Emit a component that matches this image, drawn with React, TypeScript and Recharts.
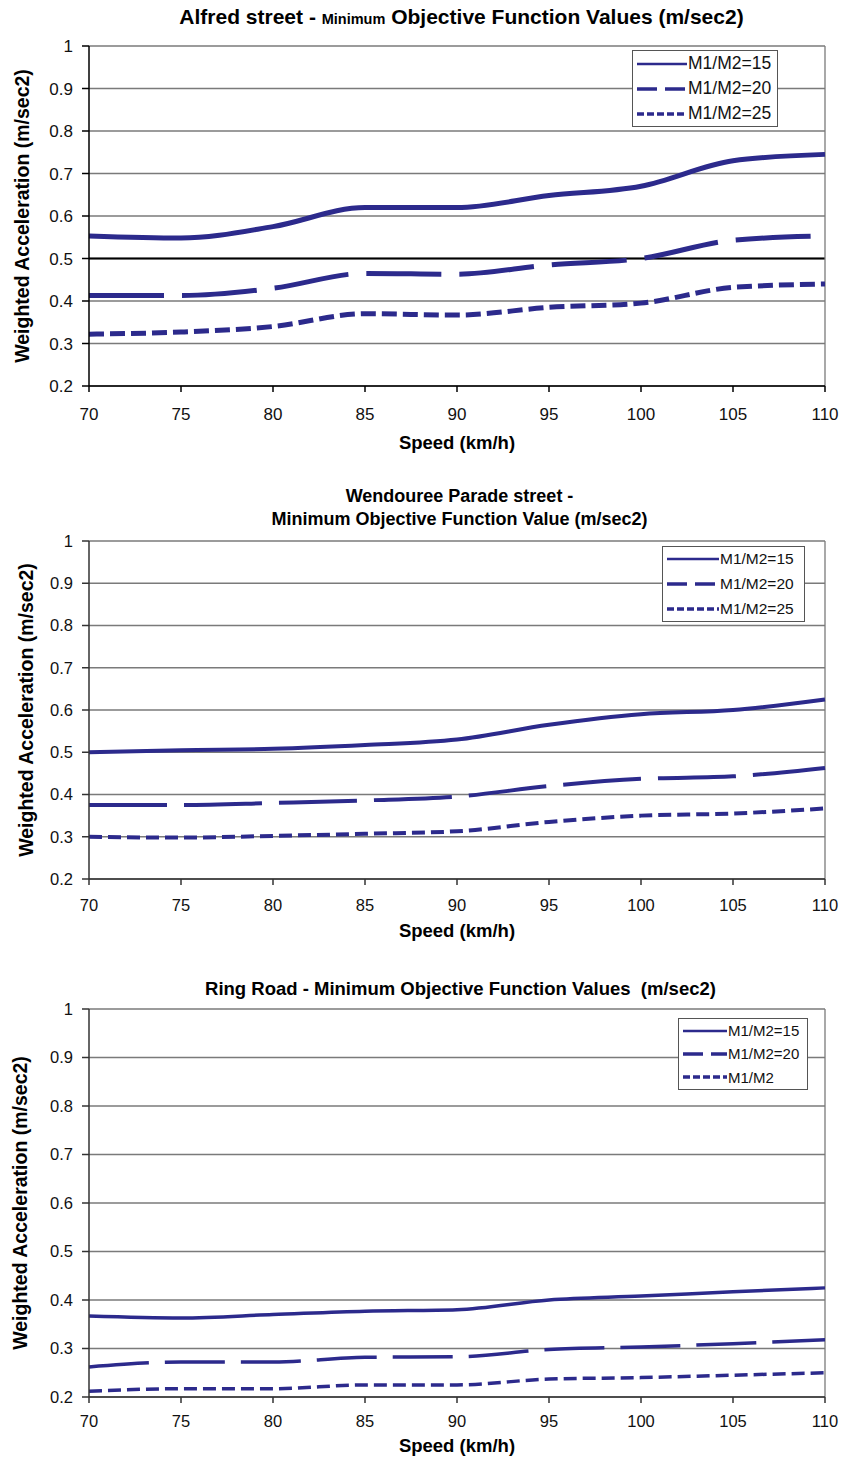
import React from 'react';
import { LineChart, Line, XAxis, YAxis, CartesianGrid, ReferenceLine, Label } from 'recharts';

const speeds = [70, 75, 80, 85, 90, 95, 100, 105, 110];
const yTicks = [0.2, 0.3, 0.4, 0.5, 0.6, 0.7, 0.8, 0.9, 1];

const alfred15 = [0.553, 0.548, 0.575, 0.62, 0.62, 0.648, 0.67, 0.73, 0.745];
const alfred20 = [0.413, 0.413, 0.43, 0.465, 0.463, 0.485, 0.5, 0.543, 0.553];
const alfred25 = [0.322, 0.327, 0.34, 0.37, 0.367, 0.385, 0.395, 0.432, 0.44];

const wend15 = [0.5, 0.505, 0.508, 0.517, 0.53, 0.565, 0.59, 0.6, 0.625];
const wend20 = [0.375, 0.375, 0.38, 0.386, 0.395, 0.42, 0.437, 0.443, 0.463];
const wend25 = [0.3, 0.298, 0.302, 0.307, 0.313, 0.335, 0.35, 0.355, 0.367];

const ring15 = [0.367, 0.363, 0.37, 0.377, 0.38, 0.4, 0.408, 0.417, 0.425];
const ring20 = [0.262, 0.272, 0.272, 0.282, 0.283, 0.298, 0.303, 0.31, 0.318];
const ring25 = [0.212, 0.217, 0.217, 0.225, 0.225, 0.237, 0.24, 0.245, 0.25];

const names = ['M1/M2=15', 'M1/M2=20', 'M1/M2=25'];
const ringNames = ['M1/M2=15', 'M1/M2=20', 'M1/M2'];

const COLOR = '#2c2a8c';
const FONT = '"Liberation Sans", Arial, sans-serif';

const build = (a: number[], b: number[], c: number[]) =>
  speeds.map((s, i) => ({ speed: s, a: a[i], b: b[i], c: c[i] }));

type PanelProps = {
  top: number;
  height: number;
  plotTop: number;
  plotBottom: number;
  data: any[];
  labels: string[];
  dashes: string[];
  widths: number[];
  title: React.ReactNode;
  legend: { left: number; top: number; width: number; height: number; lineW: number; font: number };
  axisColor: string;
  tickFont: number;
  tickGap: number;
  xLabelGap: number;
  yLabelX: number;
  labelFont: number;
  midLine?: boolean;
};

function Panel(p: PanelProps) {
  const keys = ['a', 'b', 'c'];
  return (
    <div style={{ position: 'absolute', left: 0, top: p.top, width: 843, height: p.height }}>
      {p.title}
      <LineChart
        width={843}
        height={p.height}
        data={p.data}
        margin={{ top: p.plotTop, right: 18, left: 0, bottom: 0 }}
        style={{ fontFamily: FONT }}
      >
        <CartesianGrid horizontal vertical={false} stroke="#7a7a7a" strokeWidth={1.3} />
        <XAxis
          dataKey="speed"
          type="number"
          domain={[70, 110]}
          ticks={speeds}
          height={p.height - p.plotBottom}
          stroke={p.axisColor}
          strokeWidth={1.5}
          tickSize={6}
          tickMargin={p.tickGap}
          tick={{ fill: '#111', fontSize: p.tickFont }}
        >
          <Label
            value="Speed (km/h)"
            position="insideTop"
            offset={p.xLabelGap}
            style={{ fontWeight: 'bold', fontSize: p.labelFont, fill: '#000' }}
          />
        </XAxis>
        <YAxis
          type="number"
          domain={[0.2, 1]}
          ticks={yTicks}
          width={89}
          stroke={p.axisColor}
          strokeWidth={1.5}
          tickSize={7}
          tickMargin={9}
          tick={{ fill: '#111', fontSize: p.tickFont }}
          allowDataOverflow
        >
          <Label
            value="Weighted Acceleration (m/sec2)"
            position="insideLeft"
            angle={-90}
            offset={p.yLabelX}
            style={{ textAnchor: 'middle', fontWeight: 'bold', fontSize: p.labelFont + 1, fill: '#000' }}
          />
        </YAxis>
        {p.midLine && <ReferenceLine y={0.5} stroke="#000" strokeWidth={1.8} />}
        <ReferenceLine x={110} stroke="#7a7a7a" strokeWidth={1.3} />
        {keys.map((k, i) => (
          <Line
            key={k}
            dataKey={k}
            name={p.labels[i]}
            type="monotone"
            stroke={COLOR}
            strokeWidth={p.widths[i]}
            strokeDasharray={p.dashes[i]}
            dot={false}
            activeDot={false}
            isAnimationActive={false}
          />
        ))}
      </LineChart>
      <div
        style={{
          position: 'absolute',
          left: p.legend.left,
          top: p.legend.top,
          width: p.legend.width,
          height: p.legend.height,
          border: '1.5px solid #555',
          background: '#fff',
          boxSizing: 'border-box',
          display: 'flex',
          flexDirection: 'column',
          justifyContent: 'space-around',
          paddingLeft: 4,
          fontFamily: FONT,
          fontSize: p.legend.font,
          color: '#111',
        }}
      >
        {p.labels.map((l, i) => (
          <div key={l} style={{ display: 'flex', alignItems: 'center', height: 18 }}>
            <svg width={p.legend.lineW} height={10} style={{ display: 'block' }}>
              <line
                x1={0}
                y1={5}
                x2={p.legend.lineW}
                y2={5}
                stroke={COLOR}
                strokeWidth={i === 0 ? 2.5 : 3.5}
                strokeDasharray={i === 0 ? undefined : i === 1 ? '20 8' : '7 3'}
              />
            </svg>
            <span style={{ marginLeft: 1 }}>{l}</span>
          </div>
        ))}
      </div>
    </div>
  );
}

const titleStyle: React.CSSProperties = {
  position: 'absolute',
  left: 0,
  width: 843,
  textAlign: 'center',
  fontFamily: FONT,
  fontWeight: 'bold',
  color: '#000',
  whiteSpace: 'nowrap',
};

export default function App() {
  return (
    <div style={{ position: 'absolute', left: 0, top: 0, width: 843, height: 1460, background: '#fff' }}>
      <Panel
        top={0}
        height={470}
        plotTop={46}
        plotBottom={386}
        data={build(alfred15, alfred20, alfred25)}
        labels={names}
        dashes={['', '75 18', '15 6']}
        widths={[5, 5, 5]}
        axisColor="#000"
        tickFont={17}
        tickGap={16}
        xLabelGap={50}
        yLabelX={22}
        labelFont={18.5}
        midLine
        legend={{ left: 632, top: 50, width: 146, height: 77, lineW: 50, font: 17.5 }}
        title={
          <div style={{ ...titleStyle, top: 5, fontSize: 21, left: 40 }}>
            Alfred street - <span style={{ fontSize: 14.5 }}>Minimum</span> Objective Function Values (m/sec2)
          </div>
        }
      />
      <Panel
        top={470}
        height={480}
        plotTop={71}
        plotBottom={409}
        data={build(wend15, wend20, wend25)}
        labels={names}
        dashes={['', '78 17', '13 6']}
        widths={[4, 4, 4]}
        axisColor="#333"
        tickFont={16.5}
        tickGap={14}
        xLabelGap={45}
        yLabelX={26}
        labelFont={18.5}
        legend={{ left: 662, top: 76, width: 143, height: 76, lineW: 52, font: 15.5 }}
        title={
          <>
            <div style={{ ...titleStyle, top: 16, fontSize: 18, left: 38 }}>Wendouree Parade street -</div>
            <div style={{ ...titleStyle, top: 39, fontSize: 18, left: 38 }}>
              Minimum Objective Function Value (m/sec2)
            </div>
          </>
        }
      />
      <Panel
        top={950}
        height={510}
        plotTop={59}
        plotBottom={447}
        data={build(ring15, ring20, ring25)}
        labels={ringNames}
        dashes={['', '60 16', '13 6']}
        widths={[3.5, 3.5, 3.5]}
        axisColor="#333"
        tickFont={16.5}
        tickGap={12}
        xLabelGap={42}
        yLabelX={20}
        labelFont={18.5}
        legend={{ left: 678, top: 68, width: 130, height: 72, lineW: 44, font: 15 }}
        title={
          <div style={{ ...titleStyle, top: 28, fontSize: 18.5, left: 39 }}>
            Ring Road - Minimum Objective Function Values&nbsp; (m/sec2)
          </div>
        }
      />
    </div>
  );
}
